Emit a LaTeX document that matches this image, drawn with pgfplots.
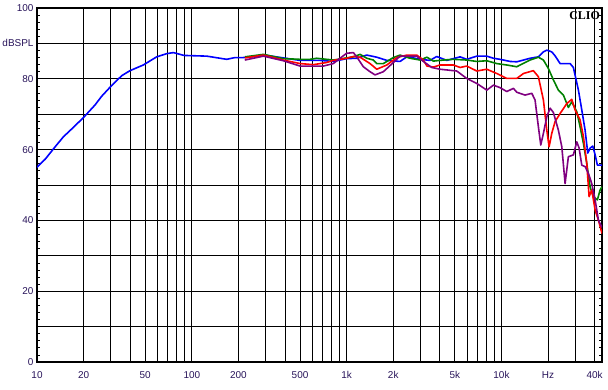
\documentclass[border=0pt]{standalone}
\usepackage{fontspec}
\setmainfont{Liberation Sans}
\newfontfamily\serifb{Liberation Serif}
\usepackage{pgfplots}
\pgfplotsset{compat=1.18}
\definecolor{lblcol}{RGB}{40,20,90}
\definecolor{cgreen}{RGB}{0,128,0}
\definecolor{cpurple}{RGB}{128,0,128}
\definecolor{cblue}{RGB}{0,0,255}
\definecolor{cred}{RGB}{255,0,0}
\begin{document}
\begin{tikzpicture}
\begin{axis}[
 scale only axis, width=565bp, height=354bp,
 xmode=log, xmin=10, xmax=44600, ymin=0, ymax=100,
 xtick={10,20,30,40,50,60,70,80,90,100,200,300,400,500,600,700,800,900,1000,2000,3000,4000,5000,6000,7000,8000,9000,10000,20000,30000,40000},
 xticklabels={10,20,,,50,,,,,100,200,,,500,,,,,1k,2k,,,5k,,,,,10k,Hz,,40k},
 xminorticks=false,
 ytick={0,10,20,30,40,50,60,70,80,90,100},
 yticklabels={0,,20,,40,,60,,80,dBSPL,100},
 minor y tick num=4,
 grid=major, major grid style={black, line width=0.85bp},
 axis line style={line width=1.8bp},
 major tick length=0pt, minor tick length=3.5bp,
 tick align=inside, ytick pos=both, xtick pos=bottom,
 every tick/.style={black, line width=0.7bp},
 tick label style={font=\fontsize{10}{12}\selectfont, text=lblcol},
 xticklabel style={yshift=-6bp},
 every axis plot/.append style={line width=1.6bp, line join=round, no marks},
]
\addplot[cblue] coordinates {
(10,55.0) (11.3,57.3) (13.1,60.8) (14.8,63.6) (17.2,66.3) (20,69.1) (23.7,72.6) (26.2,75.1) (29.9,77.8) (35.3,80.9) (39.9,82.3) (48.6,83.9) (59.3,86.2) (68.8,87.1) (76,87.4) (89,86.6) (125,86.4) (168,85.5) (190,86.0) (215,86.0) (305,86.6) (500,85.2) (673,85.2) (820,84.9) (1000,85.7) (1162,85.8) (1349,86.7) (1565,86.1) (1816,85.2) (2213,84.9) (2445,86.2) (2568,86.1) (2980,85.5) (3458,85.2) (3818,86.3) (4433,85.2) (5404,86.2) (5966,85.5) (6925,86.4) (8037,86.4) (8870,85.8) (9794,85.5) (11370,84.9) (12560,84.8) (13870,85.3) (15310,85.8) (17310,86.2) (18660,87.6) (19630,88.1) (21130,87.6) (22190,86.5) (23920,84.3) (25760,84.3) (27750,84.3) (29140,83.2) (31400,76.8) (33020,71.2) (34680,65.5) (36100,59) (37340,60.4) (38900,61) (40270,58.5) (41650,55.6) (44600,55.6)
};
\addplot[cgreen] coordinates {
(220,86.2) (290,86.9) (390,85.7) (500,85.5) (580,85.5) (641,85.8) (820,85.3) (1000,85.9) (1105,86.2) (1221,86.9) (1349,85.8) (1488,85.3) (1565,84.3) (1726,84.3) (2003,86.0) (2213,86.7) (2568,85.8) (2980,85.3) (3300,86.1) (3631,85.0) (4214,85.3) (4890,85.5) (5966,85.3) (6925,84.9) (8037,85.1) (9324,84.3) (10820,83.9) (12560,83.4) (13190,83.9) (15310,85.3) (17310,86.1) (18660,85.3) (20100,82.9) (21640,79.7) (23310,76.8) (25120,75.4) (27050,71.9) (28450,73.5) (30650,70.7) (32190,66.5) (33820,61.8) (35560,56.1) (37340,49.5) (39250,46.7) (41650,45.8) (43350,48.6) (44600,49.5)
};
\addplot[cred] coordinates {
(220,85.9) (290,86.7) (390,85.3) (500,84.3) (610,84.0) (743,84.6) (820,85.2) (1000,85.8) (1105,86.3) (1221,86.1) (1416,84.3) (1565,82.7) (1816,83.9) (2107,86.0) (2445,86.7) (2837,86.7) (3131,85.3) (3300,83.6) (3631,83.3) (4012,83.9) (4890,83.9) (5404,83.2) (5966,83.6) (6925,82.2) (8037,82.7) (9324,81.5) (10820,80.1) (12560,80.1) (13870,81.5) (16070,82.3) (17310,80.6) (18660,74) (19630,65.5) (20300,60.8) (21130,64.6) (22190,67.9) (23920,70.2) (26410,73) (28450,74.2) (29890,71.2) (32190,68.4) (33820,63.7) (35560,56.1) (36810,46.7) (38300,48.6) (40270,42.9) (42270,40.1) (44600,36.3)
};
\addplot[cpurple] coordinates {
(220,85.3) (290,86.4) (390,85.1) (500,83.6) (595,83.6) (707,83.6) (820,84.3) (906,85.8) (1000,87.2) (1105,87.4) (1162,86.2) (1282,83.4) (1416,82.0) (1526,81.1) (1726,82.0) (2003,84.6) (2213,86.4) (2445,86.4) (2837,86.4) (3131,84.9) (3545,83.2) (4012,82.7) (4433,82.5) (5142,82.2) (5966,80.1) (6925,78.7) (8037,76.8) (8870,78.2) (9794,77.5) (10820,76.4) (11940,77.3) (12560,76.2) (14200,75.4) (15700,75.9) (16480,74) (17310,66.5) (17940,61.3) (18660,64.6) (19630,69.3) (20610,71.7) (21640,70.5) (23310,65.5) (24530,60.8) (25760,50.4) (27050,58) (29140,58.5) (30650,62.2) (31700,60.5) (33020,55.6) (34680,55.2) (36420,53.3) (38300,50.4) (40270,45.8) (42270,40.1) (44600,38)
};
\node[anchor=north east, inner sep=0pt, font=\serifb\bfseries\fontsize{12}{12}\selectfont] at (rel axis cs:1,1) [xshift=-2bp, yshift=-3bp] {CLIO};
\coordinate (bl) at (rel axis cs:0,0);
\coordinate (tr) at (rel axis cs:1,1);
\end{axis}
\pgfresetboundingbox
\path[use as bounding box] ([shift={(-37bp,-28bp)}]bl) rectangle ([shift={(6bp,8bp)}]tr);
\end{tikzpicture}
\end{document}
